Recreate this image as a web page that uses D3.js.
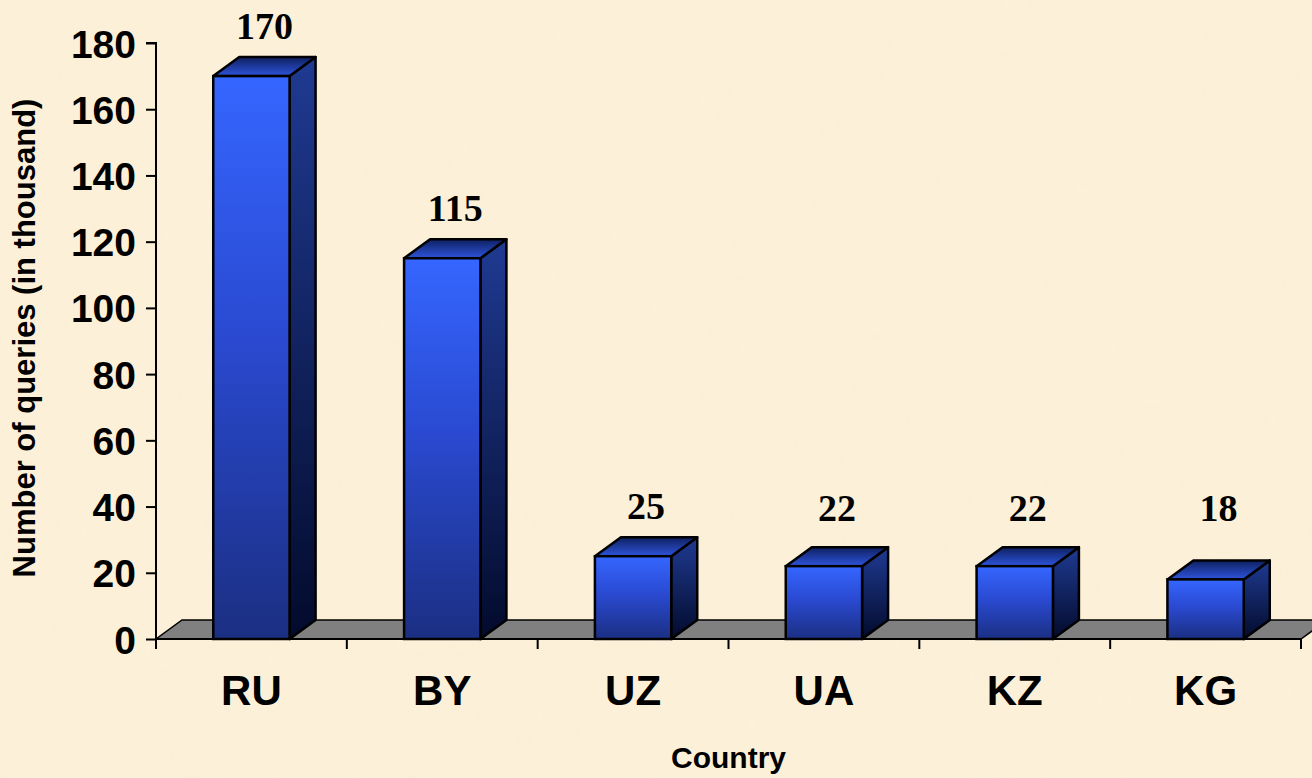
<!DOCTYPE html>
<html>
<head>
<meta charset="utf-8">
<script src="https://cdn.jsdelivr.net/npm/d3@7"></script>
<style>
  html, body { margin: 0; padding: 0; background: #fbefd6; }
  svg { display: block; }
</style>
</head>
<body>
<div id="chart"></div>
<script>
// Chart data
const countries = ['RU', 'BY', 'UZ', 'UA', 'KZ', 'KG'];
const queries = [170, 115, 25, 22, 22, 18];
const yTicks = [0, 20, 40, 60, 80, 100, 120, 140, 160, 180];

const width = 1312, height = 778;
const margin = { left: 156, right: 11, top: 43, bottom: 139 };
const depthX = 26, depthY = 19;

const svg = d3.select('#chart').append('svg')
  .attr('width', width)
  .attr('height', height);

const defs = svg.append('defs');

// parchment texture
const paper = defs.append('filter').attr('id', 'paper')
  .attr('x', 0).attr('y', 0).attr('width', '100%').attr('height', '100%');
paper.append('feTurbulence')
  .attr('type', 'fractalNoise').attr('baseFrequency', 0.02)
  .attr('numOctaves', 3).attr('seed', 7).attr('result', 'noise');
paper.append('feColorMatrix').attr('in', 'noise').attr('type', 'matrix')
  .attr('values', '0 0 0 0 0.93  0 0 0 0 0.85  0 0 0 0 0.70  0 0 0 0.7 -0.25');

function grad(id, stops) {
  const g = defs.append('linearGradient').attr('id', id)
    .attr('x1', 0).attr('y1', 0).attr('x2', 0).attr('y2', 1);
  stops.forEach(([o, c]) => g.append('stop').attr('offset', o).attr('stop-color', c));
}
grad('frontGrad', [[0, '#3566ff'], [0.45, '#2a4ad2'], [1, '#1b2f82']]);
grad('sideGrad', [[0, '#1f3a92'], [1, '#030b2c']]);
grad('topGrad', [[0, '#0e2060'], [1, '#2e54dc']]);

svg.append('rect').attr('width', width).attr('height', height).attr('fill', '#fcf0d8');
svg.append('rect').attr('width', width).attr('height', height).attr('filter', 'url(#paper)').attr('opacity', 0.45);

const x = d3.scaleBand()
  .domain(countries)
  .range([margin.left, width - margin.right])
  .paddingInner(0.6)
  .paddingOuter(0.3);

const y = d3.scaleLinear()
  .domain([0, 180])
  .range([height - margin.bottom, margin.top]);

const y0 = y(0);
const xStart = margin.left, xEnd = width - margin.right;

// floor
svg.append('path')
  .attr('d', `M${xStart},${y0} L${xEnd},${y0} L${xEnd + depthX},${y0 - depthY} L${xStart + depthX},${y0 - depthY} Z`)
  .attr('fill', '#808080')
  .attr('stroke', '#000')
  .attr('stroke-width', 1.5);

// bars
const bars = svg.append('g').selectAll('g')
  .data(countries.map((c, i) => ({ c, v: queries[i] })))
  .join('g');

bars.append('path')
  .attr('d', d => {
    const x1 = x(d.c) + x.bandwidth(), t = y(d.v);
    return `M${x1},${t} L${x1 + depthX},${t - depthY} L${x1 + depthX},${y0 - depthY} L${x1},${y0} Z`;
  })
  .attr('fill', 'url(#sideGrad)')
  .attr('stroke', '#000').attr('stroke-width', 2.5).attr('stroke-linejoin', 'round');

bars.append('path')
  .attr('d', d => {
    const x0 = x(d.c), x1 = x0 + x.bandwidth(), t = y(d.v);
    return `M${x0},${t} L${x0 + depthX},${t - depthY} L${x1 + depthX},${t - depthY} L${x1},${t} Z`;
  })
  .attr('fill', 'url(#topGrad)')
  .attr('stroke', '#000').attr('stroke-width', 2.5).attr('stroke-linejoin', 'round');

bars.append('rect')
  .attr('x', d => x(d.c))
  .attr('y', d => y(d.v))
  .attr('width', x.bandwidth())
  .attr('height', d => y0 - y(d.v))
  .attr('fill', 'url(#frontGrad)')
  .attr('stroke', '#000').attr('stroke-width', 2.5);

// value labels
bars.append('text')
  .attr('x', d => x(d.c) + x.bandwidth() / 2 + depthX / 2)
  .attr('y', d => Math.min(y(d.v) - depthY - 18, 521))
  .attr('text-anchor', 'middle')
  .attr('font-family', '"Liberation Serif", "Times New Roman", serif')
  .attr('font-weight', 'bold')
  .attr('font-size', 38)
  .attr('fill', '#000')
  .text(d => d.v);

// y axis
const yAxis = svg.append('g')
  .attr('transform', `translate(${margin.left},0)`)
  .call(d3.axisLeft(y).tickValues(yTicks).tickSize(10).tickPadding(10));
yAxis.select('.domain').attr('d', `M-10,${y(180)} H0 V${y0 + 10}`).attr('stroke', '#000').attr('stroke-width', 2);
yAxis.selectAll('.tick line').attr('stroke', '#000').attr('stroke-width', 2);
yAxis.selectAll('.tick text')
  .attr('font-family', '"Liberation Sans", Arial, sans-serif')
  .attr('font-weight', 'bold')
  .attr('font-size', 39)
  .attr('dy', '0.36em')
  .attr('fill', '#000');

// x axis line with ticks at band boundaries
const step = x.step();
svg.append('line')
  .attr('x1', xStart).attr('x2', xEnd).attr('y1', y0).attr('y2', y0)
  .attr('stroke', '#000').attr('stroke-width', 2);
svg.append('g').selectAll('line')
  .data(d3.range(countries.length + 1))
  .join('line')
  .attr('x1', i => xStart + i * step).attr('x2', i => xStart + i * step)
  .attr('y1', y0).attr('y2', y0 + 10)
  .attr('stroke', '#000').attr('stroke-width', 2);

// category labels
svg.append('g').selectAll('text')
  .data(countries)
  .join('text')
  .attr('x', c => x(c) + x.bandwidth() / 2)
  .attr('y', 705)
  .attr('text-anchor', 'middle')
  .attr('font-family', '"Liberation Sans", Arial, sans-serif')
  .attr('font-weight', 'bold')
  .attr('font-size', 42)
  .text(c => c);

// axis titles
svg.append('text')
  .attr('x', (xStart + xEnd) / 2)
  .attr('y', 768)
  .attr('text-anchor', 'middle')
  .attr('font-family', '"Liberation Sans", Arial, sans-serif')
  .attr('font-weight', 'bold')
  .attr('font-size', 30)
  .text('Country');

svg.append('text')
  .attr('transform', 'translate(35,338) rotate(-90)')
  .attr('text-anchor', 'middle')
  .attr('font-family', '"Liberation Sans", Arial, sans-serif')
  .attr('font-weight', 'bold')
  .attr('font-size', 31)
  .text('Number of queries (in thousand)');
</script>
</body>
</html>
